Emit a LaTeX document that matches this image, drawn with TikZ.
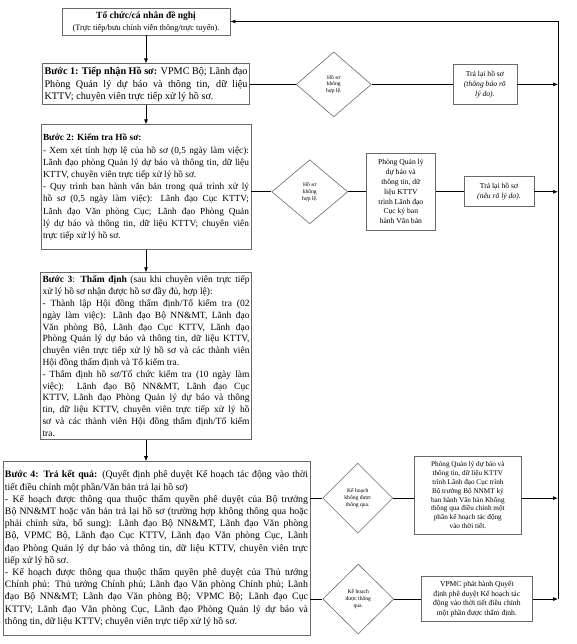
\documentclass[tikz,border=0pt]{standalone}
\usepackage{fontspec}
\setmainfont{Liberation Serif}
\usepackage{tikz}
\usetikzlibrary{arrows.meta, positioning, shapes.geometric}
\definecolor{boxgray}{RGB}{105,105,105}
\hyphenpenalty=10000
\exhyphenpenalty=10000

\begin{document}
\begin{tikzpicture}[
        x=1pt, y=1pt,
        stepbox/.style={rectangle, draw=boxgray, line width=0.9pt, align=justify,
                        inner xsep=2pt, inner ysep=2.5pt},
        sidebox/.style={rectangle, draw=boxgray, line width=0.6pt, align=center,
                        inner sep=1.5pt, font=\fontsize{7.6}{9.8}\selectfont},
        check/.style={diamond, draw=boxgray, line width=0.6pt, align=center,
                      inner sep=0pt, font=\fontsize{5.6}{6.8}\selectfont},
        link/.style={draw, line width=0.7pt},
        arrow/.style={draw, -{Latex[length=5pt, width=4pt]}, line width=0.7pt}
    ]
        \useasboundingbox (0,0) rectangle (576,-644);
        % main column
        \node [stepbox, align=center, minimum width=168pt, minimum height=27pt, inner ysep=1pt] (top) at (146,-21.5)
            {{\fontsize{9.5}{11}\selectfont\bfseries Tổ chức/cá nhân đề nghị}\\{\fontsize{8.3}{9.5}\selectfont (Trực tiếp/bưu chính viễn thông/trực tuyến).}};
        \node [stepbox, text width=203pt, minimum height=41pt, below=28pt of top, font=\fontsize{10.2}{12.8}\selectfont] (s1)
            {\textbf{Bước 1: Tiếp nhận Hồ sơ:} VPMC Bộ; Lãnh đạo\linebreak Phòng Quản lý dự báo và thông tin, dữ liệu\linebreak KTTV; chuyên viên trực tiếp xử lý hồ sơ.};
        \node [stepbox, text width=206pt, minimum height=125pt, below=19pt of s1, font=\fontsize{9.3}{12.2}\selectfont] (s2)
            {\textbf{Bước 2: Kiểm tra Hồ sơ:}\\- Xem xét tính hợp lệ của hồ sơ (0,5 ngày làm việc):\linebreak Lãnh đạo phòng Quản lý dự báo và thông tin, dữ liệu\linebreak KTTV, chuyên viên trực tiếp xử lý hồ sơ.\\- Quy trình ban hành văn bản trong quá trình xử lý\linebreak hồ sơ (0,5 ngày làm việc): Lãnh đạo Cục KTTV;\linebreak Lãnh đạo Văn phòng Cục; Lãnh đạo Phòng Quản\linebreak lý dự báo và thông tin, dữ liệu KTTV; chuyên viên\linebreak trực tiếp xử lý hồ sơ.};
        \node [stepbox, text width=207pt, minimum height=167pt, below=22pt of s2, font=\fontsize{9.5}{11.8}\selectfont] (s3)
            {\textbf{Bước 3}: \textbf{Thẩm định} (sau khi chuyên viên trực tiếp\linebreak xử lý hồ sơ nhận được hồ sơ đầy đủ, hợp lệ):\\- Thành lập Hội đồng thẩm định/Tổ kiểm tra (02\linebreak ngày làm việc): Lãnh đạo Bộ NN\&MT, Lãnh đạo\linebreak Văn phòng Bộ, Lãnh đạo Cục KTTV, Lãnh đạo\linebreak Phòng Quản lý dự báo và thông tin, dữ liệu KTTV,\linebreak chuyên viên trực tiếp xử lý hồ sơ và các thành viên\linebreak Hội đồng thẩm định và Tổ kiểm tra.\\- Thẩm định hồ sơ/Tổ chức kiểm tra (10 ngày làm\linebreak việc): Lãnh đạo Bộ NN\&MT, Lãnh đạo Cục\linebreak KTTV, Lãnh đạo Phòng Quản lý dự báo và thông\linebreak tin, dữ liệu KTTV, chuyên viên trực tiếp xử lý hồ\linebreak sơ và các thành viên Hội đồng thẩm định/Tổ kiểm\linebreak tra.};
        \node [stepbox, text width=303pt, minimum height=174pt, below=21pt of s3, xshift=10.5pt, font=\fontsize{9.8}{12.2}\selectfont] (s4)
            {\textbf{Bước 4: Trả kết quả:} (Quyết định phê duyệt Kế hoạch tác động vào thời\linebreak tiết điều chỉnh một phần/Văn bản trả lại hồ sơ)\\- Kế hoạch được thông qua thuộc thẩm quyền phê duyệt của Bộ trưởng\linebreak Bộ NN\&MT hoặc văn bản trả lại hồ sơ (trường hợp không thông qua hoặc\linebreak phải chỉnh sửa, bổ sung): Lãnh đạo Bộ NN\&MT, Lãnh đạo Văn phòng\linebreak Bộ, VPMC Bộ, Lãnh đạo Cục KTTV, Lãnh đạo Văn phòng Cục, Lãnh\linebreak đạo Phòng Quản lý dự báo và thông tin, dữ liệu KTTV, chuyên viên trực\linebreak tiếp xử lý hồ sơ.\\- Kế hoạch được thông qua thuộc thẩm quyền phê duyệt của Thủ tướng\linebreak Chính phủ: Thủ tướng Chính phủ; Lãnh đạo Văn phòng Chính phủ; Lãnh\linebreak đạo Bộ NN\&MT; Lãnh đạo Văn phòng Bộ; VPMC Bộ; Lãnh đạo Cục\linebreak KTTV; Lãnh đạo Văn phòng Cục, Lãnh đạo Phòng Quản lý dự báo và\linebreak thông tin, dữ liệu KTTV; chuyên viên trực tiếp xử lý hồ sơ.};
        % side checks
        \node [check, minimum width=75pt, minimum height=65pt, right=46pt of s1] (d1) {Hồ sơ\\không\\hợp lệ.};
        \node [sidebox, minimum width=64pt, minimum height=40pt, right=81pt of d1] (ret1) {Trả lại hồ sơ\\\textit{(thông báo rõ}\\\textit{lý do).}};
        \node [check, minimum width=76pt, minimum height=64pt, right=20pt of s2, yshift=-4.5pt] (d2) {Hồ sơ\\không\\hợp lệ.};
        \node [sidebox, minimum width=69pt, minimum height=76pt, right=18pt of d2] (pql2) {Phòng Quản lý\\dự báo và\\thông tin, dữ\\liệu KTTV\\trình Lãnh đạo\\Cục ký ban\\hành Văn bản};
        \node [sidebox, minimum width=70pt, minimum height=30pt, right=28pt of pql2] (ret2) {Trả lại hồ sơ\\\textit{(nêu rõ lý do).}};
        \node [check, minimum width=70pt, minimum height=70pt, right=12pt of s4.north east, yshift=-37pt] (d3) {Kế hoạch\\không được\\thông qua.};
        \node [sidebox, minimum width=107pt, minimum height=78pt, right=21pt of d3, yshift=3pt, font=\fontsize{7.2}{8.8}\selectfont] (pql4) {Phòng Quản lý dự báo và\\thông tin, dữ liệu KTTV\\trình Lãnh đạo Cục trình\\Bộ trưởng Bộ NNMT ký\\ban hành Văn bản Không\\thông qua điều chỉnh một\\phần kế hoạch tác động\\vào thời tiết.};
        \node [check, minimum width=71pt, minimum height=70pt, right=12pt of s4.south east, yshift=37pt] (d4) {Kế hoạch\\được thông\\qua.};
        \node [sidebox, minimum width=111pt, minimum height=45pt, right=27pt of d4] (vpmc) {VPMC phát hành Quyết\\định phê duyệt Kế hoạch tác\\động vào thời tiết điều chỉnh\\một phần được thẩm định.};
        \coordinate (rail) at (558,-21.5);
        % connectors
        \path [arrow] (top) -- (s1);
        \path [arrow] (s1) -- (s2);
        \path [arrow] (s2) -- (s3);
        \path [arrow] (s3.south) -- (s3.south |- s4.north);
        \path [link] (s1) -- (d1);
        \path [link] (d1) -- (ret1);
        \path [arrow] (ret1) -- (ret1 -| rail);
        \path [link] (d2.west -| s2.east) -- (d2);
        \path [link] (d2) -- (pql2);
        \path [link] (pql2) -- (ret2);
        \path [arrow] (ret2) -- (ret2 -| rail);
        \path [link] (d3.west -| s4.east) -- (d3);
        \path [link] (d3) -- (d3 -| pql4.west);
        \path [arrow] (d3 -| pql4.east) -- (d3 -| rail);
        \path [link] (d4.west -| s4.east) -- (d4);
        \path [link] (d4) -- (vpmc);
        \path [arrow] (vpmc) -- (vpmc -| rail);
        \path [arrow] (vpmc -| rail) |- (top);
    \end{tikzpicture}
\end{document}
